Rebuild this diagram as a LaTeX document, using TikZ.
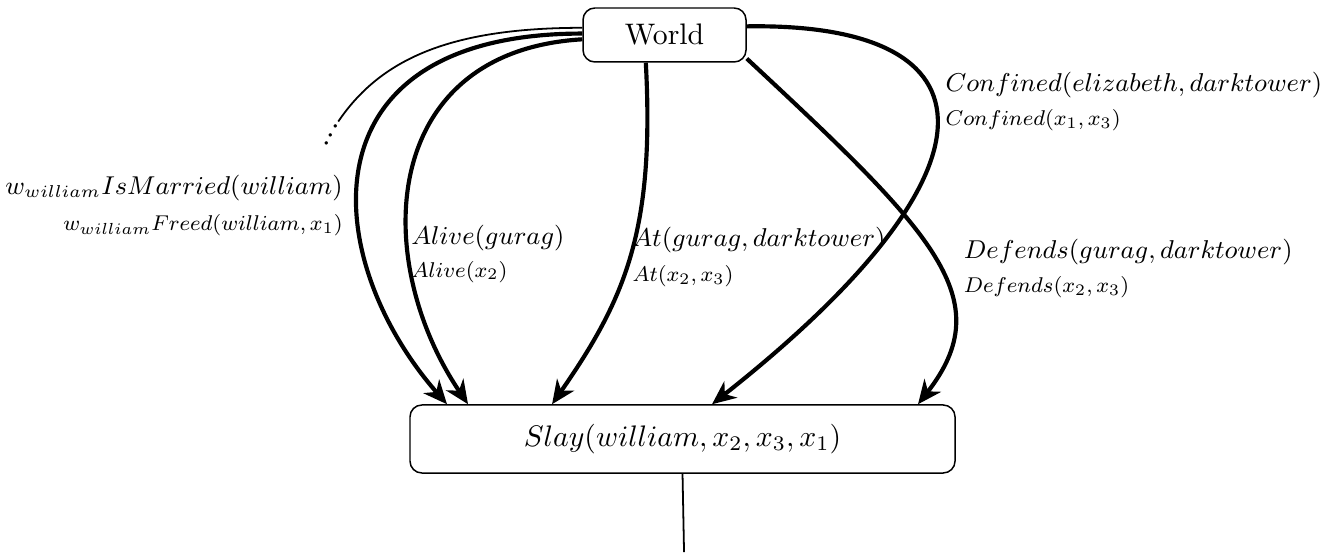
\documentclass[tikz,border=0pt]{standalone}
\usepackage{tikz}
\usetikzlibrary{arrows.meta,positioning,calc}
\newcommand{\lblbig}[1]{\scalebox{0.965}{\small$#1$}}
\newcommand{\lblsmall}[1]{\scalebox{0.9}{\footnotesize$#1$}}
\tikzset{
  state_box/.style={draw,rounded corners=4pt,line width=0.5pt,align=center},
  lbl/.style={inner sep=0pt},
  arr/.style={-{Stealth[length=8pt,width=7pt,inset=2.5pt]},line width=1.4pt},
  arr_thin/.style={semithick},
}

\begin{document}
\begin{tikzpicture}
    \useasboundingbox (0,0) rectangle (15.834,-6.533);
    \node[state_box,minimum width=1.929cm,minimum height=0.639cm] (world) at (7.864,-0.414) {World};
    \node[state_box,minimum width=6.45cm,minimum height=0.805cm] (slay) at (8.077,-5.195) {$Slay(william,x_2,x_3,x_1)$};
    \node[inner sep=0.5pt,font=\scriptsize\bfseries,rotate=62] (more) at (3.917,-1.600) {.\kern0.7pt.\kern0.7pt.};
    \coordinate (out) at (8.095,-6.533);
    % edge labels
    \node[lbl,anchor=east] (married) at (4.063,-2.228) {\lblbig{w_{william}IsMarried(william)}};
    \node[lbl,anchor=east] (freed) at (4.063,-2.663) {\lblsmall{w_{william}Freed(william,x_1)}};
    \node[lbl,anchor=west] (alive) at (4.860,-2.820) {\lblbig{Alive(gurag)}};
    \node[lbl,anchor=west] (alivex) at (4.864,-3.215) {\lblsmall{Alive(x_2)}};
    \node[lbl,anchor=west] (at) at (7.476,-2.840) {\lblbig{At(gurag,darktower)}};
    \node[lbl,anchor=west] (atx) at (7.479,-3.266) {\lblsmall{At(x_2,x_3)}};
    \node[lbl,anchor=west] (confined) at (11.183,-1.006) {\lblbig{Confined(elizabeth,darktower)}};
    \node[lbl,anchor=west] (confinedx) at (11.183,-1.420) {\lblsmall{Confined(x_1,x_3)}};
    \node[lbl,anchor=west] (defends) at (11.400,-2.979) {\lblbig{Defends(gurag,darktower)}};
    \node[lbl,anchor=west] (defendsx) at (11.400,-3.393) {\lblsmall{Defends(x_2,x_3)}};
    % connectors
    \draw[arr_thin] (world.175) .. controls +(-1.574,0) and +(0.497,0.734) .. (more.east);
    \draw[arr] (world.179) .. controls +(-3.349,0) and +(-1.503,1.716) .. ([xshift=-2.787cm]slay.north);
    \draw[arr] (world.183) .. controls +(-2.402,-0.142) and +(-1.160,1.716) .. ([xshift=-2.538cm]slay.north);
    \draw[arr] (world.236) .. controls +(0.107,-1.988) and +(0.864,1.243) .. ([xshift=-1.544cm]slay.north);
    \draw[arr] (world.6) .. controls +(3.006,0.047) and +(3.527,2.781) .. ([xshift=0.349cm]slay.north);
    \draw[arr] (world.-16) .. controls +(2.225,-2.071) and +(0.970,1.243) .. ([xshift=2.787cm]slay.north);
    \draw[arr_thin] (slay.south) -- (out);
\end{tikzpicture}
\end{document}
